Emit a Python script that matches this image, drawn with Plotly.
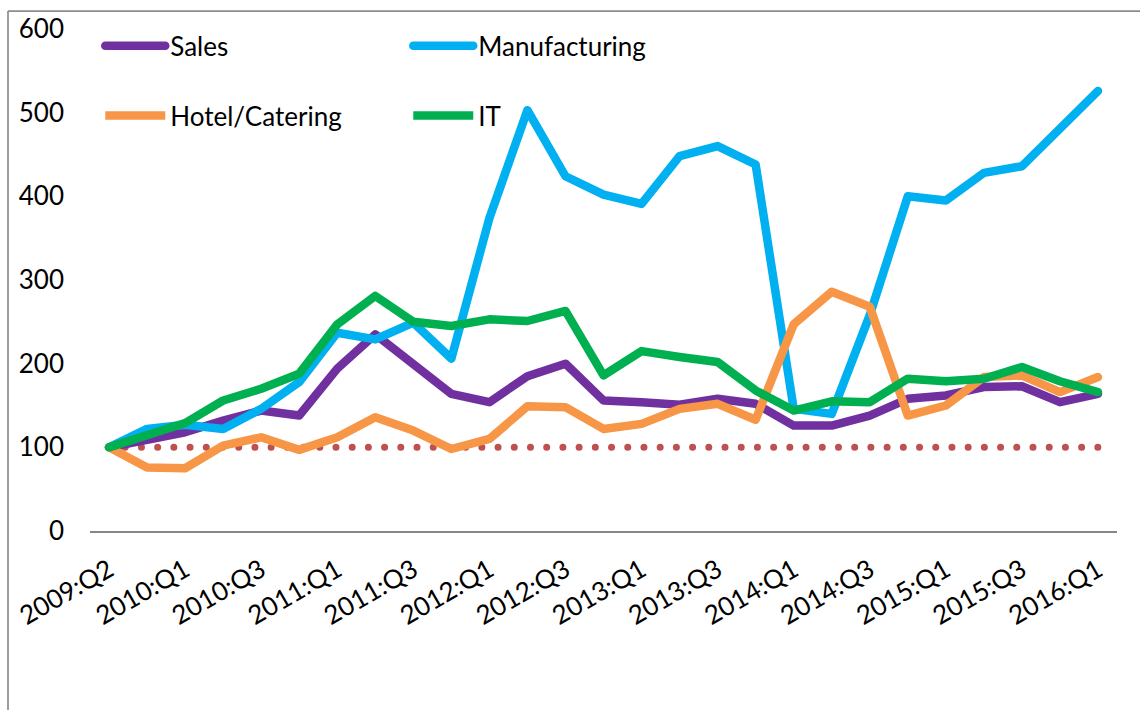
import plotly.graph_objects as go

# Quarterly index series (base = 100)
quarters = [
    "2009:Q2", "2009:Q4",
    "2010:Q1", "2010:Q2", "2010:Q3", "2010:Q4",
    "2011:Q1", "2011:Q2", "2011:Q3", "2011:Q4",
    "2012:Q1", "2012:Q2", "2012:Q3", "2012:Q4",
    "2013:Q1", "2013:Q2", "2013:Q3", "2013:Q4",
    "2014:Q1", "2014:Q2", "2014:Q3", "2014:Q4",
    "2015:Q1", "2015:Q2", "2015:Q3", "2015:Q4",
    "2016:Q1",
]
tick_labels = quarters[::2]

sales = [100, 108, 118, 132, 144, 138, 194, 235, 200, 164, 154, 185, 200, 156,
         154, 151, 158, 152, 126, 126, 138, 158, 162, 172, 173, 154, 164]
manufacturing = [100, 122, 127, 122, 146, 178, 237, 229, 249, 206, 374, 503, 424, 402,
                 391, 448, 460, 438, 146, 140, 258, 400, 395, 428, 436, 481, 526]
hotel_catering = [100, 76, 75, 102, 112, 97, 112, 136, 120, 98, 110, 149, 148, 122,
                  128, 146, 152, 133, 247, 286, 268, 138, 150, 184, 186, 166, 184]
it = [100, 114, 129, 156, 170, 188, 247, 281, 250, 245, 253, 251, 263, 186,
      215, 208, 202, 168, 144, 155, 154, 182, 179, 182, 196, 179, 166]
baseline = [100] * len(quarters)

FONT = "Lato, 'Open Sans', sans-serif"
FS = 26
LW = 8.5

fig = go.Figure()

fig.add_trace(go.Scatter(
    x=quarters, y=baseline, mode="lines", showlegend=False, hoverinfo="skip",
    line=dict(color="#C0504D", width=7, dash="7px,9.2px"),
))
fig.add_trace(go.Scatter(x=quarters, y=sales, mode="lines", name="Sales",
                         line=dict(color="#7030A0", width=LW), legend="legend"))
fig.add_trace(go.Scatter(x=quarters, y=manufacturing, mode="lines", name="Manufacturing",
                         line=dict(color="#00B0F0", width=LW), legend="legend"))
fig.add_trace(go.Scatter(x=quarters, y=hotel_catering, mode="lines", name="Hotel/Catering",
                         line=dict(color="#F79646", width=LW), legend="legend2"))
fig.add_trace(go.Scatter(x=quarters, y=it, mode="lines", name="IT",
                         line=dict(color="#00B050", width=LW), legend="legend2"))

legend_common = dict(
    orientation="h", xanchor="left", yanchor="middle",
    entrywidth=233, entrywidthmode="pixels", itemwidth=60,
    font=dict(family=FONT, size=FS, color="#000000"),
    bgcolor="rgba(0,0,0,0)", borderwidth=0, traceorder="normal",
)

# Chart frame (top and left edges)
frame = dict(type="line", xref="paper", yref="paper",
             line=dict(color="#8C8C8C", width=1.7), layer="above")
fx = (8 - 90) / 1027
fy_top = (531 - 9) / 504
fy_bot = (531 - 712) / 504

fig.update_layout(
    width=1140, height=710,
    margin=dict(l=90, r=23, t=27, b=179),
    paper_bgcolor="white", plot_bgcolor="white",
    font=dict(family=FONT, size=FS, color="#000000"),
    legend=dict(x=0.010, y=(531 - 44) / 504, **legend_common),
    legend2=dict(x=0.010, y=(531 - 114) / 504, **legend_common),
    xaxis=dict(
        type="category", range=[-0.5, len(quarters) - 0.5],
        tickmode="array", tickvals=tick_labels, ticktext=tick_labels,
        tickangle=-30, showgrid=False, zeroline=False,
        showline=True, linecolor="#868686", linewidth=1.6,
        ticks="", ticklabelstandoff=12,
        tickfont=dict(family=FONT, size=FS, color="#000000"),
    ),
    yaxis=dict(
        range=[0, 600], tickvals=[0, 100, 200, 300, 400, 500, 600],
        showgrid=False, zeroline=False, showline=False, ticks="",
        ticklabelstandoff=25,
        tickfont=dict(family=FONT, size=FS, color="#000000"),
    ),
    shapes=[
        dict(x0=fx, x1=1.5, y0=fy_top, y1=fy_top, **frame),
        dict(x0=fx, x1=fx, y0=fy_top, y1=fy_bot, **frame),
    ],
    showlegend=True,
)

# Round line caps/joins, and round dots for the dotted baseline
post = """
document.querySelectorAll('.scatterlayer .js-line').forEach(function(p){
  p.style.strokeLinecap = 'round';
  p.style.strokeLinejoin = 'round';
  if ((p.style.stroke || '').indexOf('192, 80, 77') >= 0) {
    p.style.strokeDasharray = '0.01px, 16.2px';
  }
});
document.querySelectorAll('.legend .js-line').forEach(function(p){
  p.style.strokeLinecap = 'round';
});
"""

fig.write_html("out.html", post_script=post)
